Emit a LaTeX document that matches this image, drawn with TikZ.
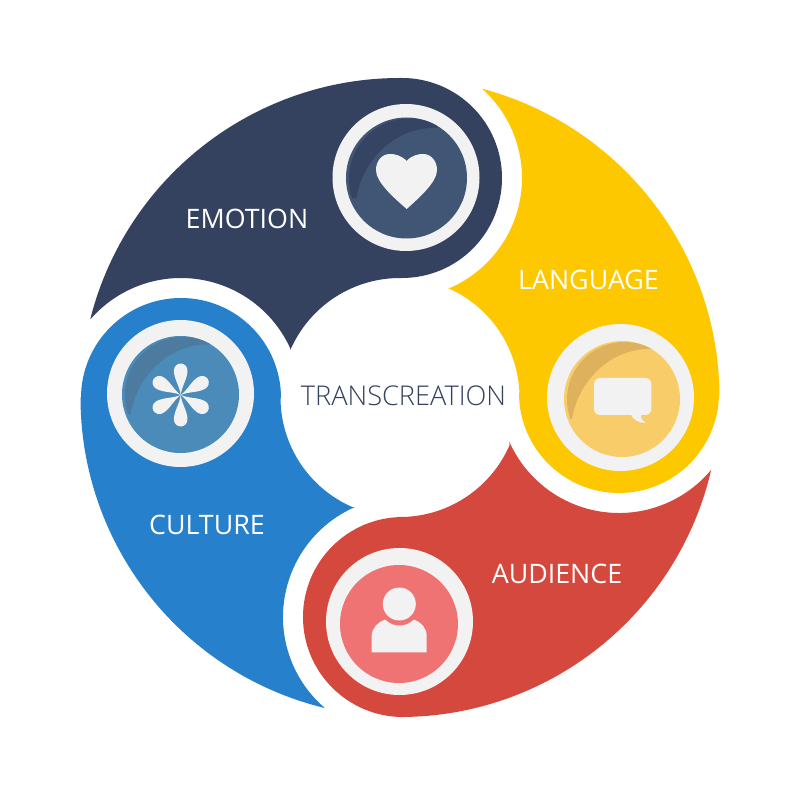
\documentclass[tikz,border=0pt]{standalone}
\usepackage{fontspec}
\setmainfont{Open Sans}
\newfontfamily\thinface{Open Sans Light}
\definecolor{navy}{HTML}{344260}
\definecolor{sun}{HTML}{FEC800}
\definecolor{tomato}{HTML}{D5483E}
\definecolor{sky}{HTML}{2780CC}
\definecolor{ringc}{HTML}{F2F2F2}
\definecolor{discn}{HTML}{415675}
\definecolor{discy}{HTML}{F8CC69}
\definecolor{discb}{HTML}{4A8BB9}
\definecolor{discr}{HTML}{F07373}
\definecolor{cresn}{HTML}{364464}
\definecolor{cresy}{HTML}{DEB25C}
\definecolor{cresb}{HTML}{4C7B9F}
\tikzset{
  px/.style={shift={(-400,397.5)},yscale=-1},
  lab/.style={text=white,font=\fontsize{26.8}{30}\selectfont,inner sep=0pt}
}
% #1 colour, #2 rotation, #3,#4 blob centre, #5,#6 neighbour blob centre, #7 outer tip angle, #8 gap tip angle
\newcommand{\petalshape}[8]{%
  \fill[#1] ({#7}:319.5) arc[start angle={#7},end angle={90+#2},radius=319.5]
   -- ([shift={(#3,#4)}]{90+#2}:100) arc[start angle={90+#2},end angle={-90+#2},radius=100]
   -- ({89+#2}:119.5) arc[start angle={89+#2},end angle={156.6+#2},radius=119.5]
   -- ([shift={(#5,#6)}]{23.8+#2}:120) arc[start angle={23.8+#2},end angle={#8},radius=120]
   -- cycle;}
% #1 x, #2 y, #3 ring r, #4 disc x, #5 disc y, #6 disc r, #7 disc colour
\newcommand{\ringdisc}[7]{%
  \fill[ringc] (#1,#2) circle[radius=#3];
  \fill[#7] (#4,#5) circle[radius=#6];}
% #1 x, #2 y, #3 r, #4 colour
\newcommand{\crescent}[4]{%
  \begin{scope}
    \clip (#1,#2) circle[radius=#3];
    \clip (#1+2.5,#2+0.5) circle[radius=#3-0.5];
    \fill[#4] (#1-50,#2+20) .. controls (#1-44,#2-18) and (#1-11,#2-52) .. (#1+31,#2-50)
      -- (#1+31,#2-70) -- (#1-70,#2-70) -- (#1-70,#2+20) -- cycle;
  \end{scope}}
\begin{document}
\begin{tikzpicture}[x=1pt,y=1pt]
\useasboundingbox (-400,397.5) rectangle (400,-402.5);
\fill[white] (-400,397.5) rectangle (400,-402.5);
\petalshape{navy}{0}{2}{219.5}{-219}{-0.5}{165.7}{138.7}
\petalshape{sun}{-90}{219}{4.5}{2}{219.5}{75.1}{48.1}
\petalshape{tomato}{-180}{3}{-219.5}{219}{4.5}{-13.2}{-40.1}
\petalshape{sky}{-270}{-219}{-0.5}{3}{-219.5}{-103.6}{-130.6}
\begin{scope}[px]
  \ringdisc{406}{177.5}{73.5}{406.5}{178}{60.5}{discn}
  \crescent{406.5}{178}{60.5}{cresn}
  \ringdisc{620.5}{397.5}{73.5}{622}{399}{58}{discy}
  \crescent{622}{399}{58}{cresy}
  \ringdisc{399.5}{621.5}{73.5}{399}{624}{59}{discr}
  \ringdisc{180.5}{393.5}{73.5}{180.5}{394.5}{58.5}{discb}
  \crescent{180.5}{394.5}{58.5}{cresb}
  % heart
  \fill[ringc] (406.7,161) .. controls (412,155) and (419,154) .. (423,154)
    .. controls (432,154) and (437,162) .. (437,170)
    .. controls (437,182) and (420,197) .. (406.7,209)
    .. controls (393,197) and (376,182) .. (376,170)
    .. controls (376,162) and (381,154) .. (390,154)
    .. controls (394,154) and (401,155) .. (406.7,161) -- cycle;
  % speech bubble
  \fill[ringc,rounded corners=6pt] (594,378) rectangle (651.3,415);
  \fill[ringc] (630.7,414) .. controls (633,420) and (639,423.5) .. (646,422.7)
    .. controls (642,421) and (640,418) .. (641.5,414) -- cycle;
  % person
  \fill[ringc] (399.3,604) circle[radius=16.5];
  \fill[ringc] (371.7,652.3) -- (371.7,636) .. controls (371.7,628) and (378,622) .. (385,619.5)
    .. controls (390,624) and (394,625.5) .. (399.3,625.5)
    .. controls (405,625.5) and (409,624) .. (414,619.5)
    .. controls (421,622) and (426.7,628) .. (426.7,636)
    -- (426.7,652.3) -- cycle;
  % asterisk
  \foreach \a in {0,60,...,300}{
    \fill[ringc,shift={(180.7,395)},rotate=\a] (0,0)
      .. controls (-1,-9) and (-6.8,-16) .. (-6.8,-24.5)
      .. controls (-6.8,-28.5) and (-3.5,-31.5) .. (0,-31.5)
      .. controls (3.5,-31.5) and (6.8,-28.5) .. (6.8,-24.5)
      .. controls (6.8,-16) and (1,-9) .. (0,0) -- cycle;
  }
  \node[lab] (emotion) at (247,219) {EMOTION};
  \node[lab] (language) at (588.5,280) {LANGUAGE};
  \node[lab] (audience) at (557,574) {AUDIENCE};
  \node[lab] (culture) at (207,525) {CULTURE};
  \node[inner sep=0pt,text=navy,font=\thinface\fontsize{27.2}{30}\selectfont] (centre) at (403.5,396) {TRANSCREATION};
\end{scope}
\end{tikzpicture}
\end{document}
